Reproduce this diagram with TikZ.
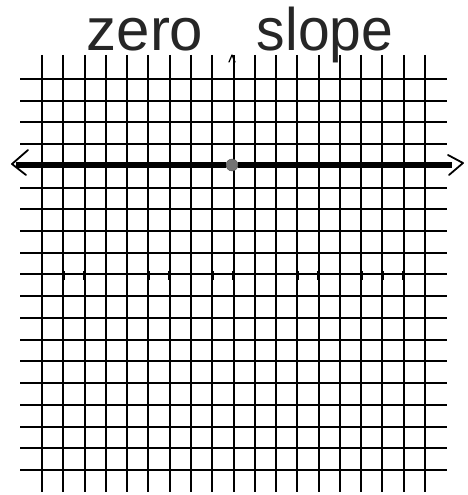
\documentclass[tikz,border=0pt]{standalone}
\usepackage{fontspec}
\setmainfont{Liberation Sans}
\begin{document}
\begin{tikzpicture}[x=1pt,y=-1pt,
  gridline/.style={line width=2pt,black},
  thickline/.style={line width=6.5pt,black},
  chevron/.style={line width=1.8pt,black,line cap=round,line join=round},
  title/.style={font=\fontsize{60}{60}\selectfont,inner sep=0pt,anchor=base,text=black!85}]
\useasboundingbox (0,0) rectangle (467,495);
% vertical grid lines
\foreach \i in {0,...,18}{
  \draw[gridline] ({42+\i*21.28},55) -- ({42+\i*21.28},492);
}
% horizontal grid lines
\foreach \j in {0,...,18}{
  \draw[gridline] (20,{79+\j*21.72}) -- (447,{79+\j*21.72});
}
% small ticks on x-axis
\foreach \i in {0,...,18}{
  \draw[line width=2.6pt] ({42+\i*21.28},271) -- ({42+\i*21.28},280);
}
% y-axis arrow top
\coordinate (ytop) at (232,55);
\draw[chevron,line width=1.2pt] (229,62) -- (ytop) -- (235,62);
% title
\node[title,xscale=1.0] (zero) at (145,51) {zero};
\node[title,xscale=0.95] (slope) at (325,51) {slope};
% zero slope line
\coordinate (L) at (16,165);
\coordinate (R) at (452,165);
\node[circle,fill=black!55,draw=black!70,minimum size=12pt,inner sep=0pt] (dot) at (232,165) {};
\draw[thickline] (L) -- (dot.west);
\draw[thickline] (dot.east) -- (R);
\draw[chevron] (28,150) -- (12,164) -- (26,175);
\draw[chevron] (448,155) -- (463,163) -- (449,175);
\end{tikzpicture}
\end{document}
